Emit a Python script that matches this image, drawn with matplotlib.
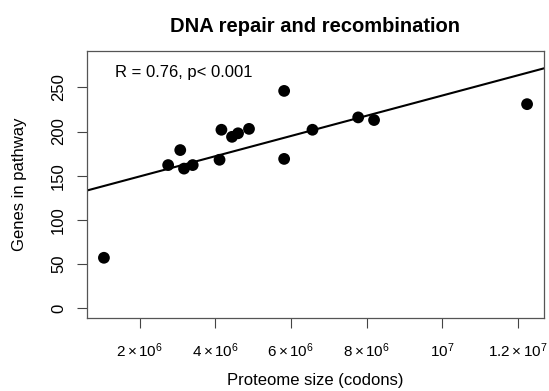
import numpy as np
import matplotlib
matplotlib.use("Agg")
import matplotlib.pyplot as plt

plt.rcParams['font.family'] = ['Liberation Sans', 'DejaVu Sans']
plt.rcParams['mathtext.fontset'] = 'custom'
plt.rcParams['mathtext.rm'] = 'Liberation Sans'
plt.rcParams['mathtext.it'] = 'Liberation Sans'

title = "DNA repair and recombination"
x_label = "Proteome size (codons)"
y_label = "Genes in pathway"
annotation = "R = 0.76, p< 0.001"

proteome_size = [1.05e6, 2.75e6, 3.07e6, 3.17e6, 3.40e6, 4.11e6, 4.16e6, 4.44e6,
                 4.60e6, 4.89e6, 5.82e6, 5.82e6, 6.57e6, 7.78e6, 8.20e6, 12.25e6]
genes = [57, 162, 179, 158, 162, 168, 202, 194,
         198, 203, 246, 169, 202, 216, 213, 231]

x_ticks = [2e6, 4e6, 6e6, 8e6, 1e7, 1.2e7]
x_tick_labels = [r'$2\times10^{6}$', r'$4\times10^{6}$', r'$6\times10^{6}$',
                 r'$8\times10^{6}$', r'$10^{7}$', r'$1.2\times10^{7}$']
y_ticks = [0, 50, 100, 150, 200, 250]

W, H = 549, 391
fig = plt.figure(figsize=(W/100, H/100), dpi=100)
ax = fig.add_axes([87/W, 1-318/H, (544-87)/W, (318-51)/H])

x = np.array(proteome_size)
y = np.array(genes)
ax.scatter(x, y, s=72, color='black', zorder=3, edgecolors='none')

# axis limits like R (4% extension)
xr = x.max() - x.min()
xlim = (x.min() - 0.04*xr, x.max() + 0.04*xr)
ax.set_xlim(*xlim)
ax.set_ylim(0 - 0.04*280, 280 + 0.04*280)

slope, intercept = np.polyfit(x, y, 1)
xx = np.array(xlim)
ax.plot(xx, intercept + slope*xx, color='black', lw=1.5, zorder=2)

ax.set_xticks(x_ticks)
ax.set_xticklabels(x_tick_labels, fontsize=11)
ax.set_yticks(y_ticks)
ax.set_yticklabels([str(v) for v in y_ticks], fontsize=12, rotation=90, va='center')
ax.tick_params(length=7, width=0.8, color='#444')
ax.tick_params(axis='x', pad=10)
ax.tick_params(axis='y', pad=8)

for sp in ax.spines.values():
    sp.set_color('#555')
    sp.set_linewidth(0.9)

ax.set_xlabel(x_label, fontsize=12)
ax.xaxis.set_label_coords(0.5, -(380-318)/(318-51), transform=ax.transAxes)
ax.xaxis.label.set_va('center')
ax.set_ylabel(y_label, fontsize=12)
ax.yaxis.set_label_coords(-(87-20)/(544-87), 0.5, transform=ax.transAxes)
ax.yaxis.label.set_va('center')

fig.text((87+544)/2/W, 1-26/H, title, fontsize=14.5, fontweight='bold',
         ha='center', va='center')
fig.text(115/W, 1-73/H, annotation, fontsize=12, ha='left', va='center')

fig.savefig("out.png", dpi=100)
